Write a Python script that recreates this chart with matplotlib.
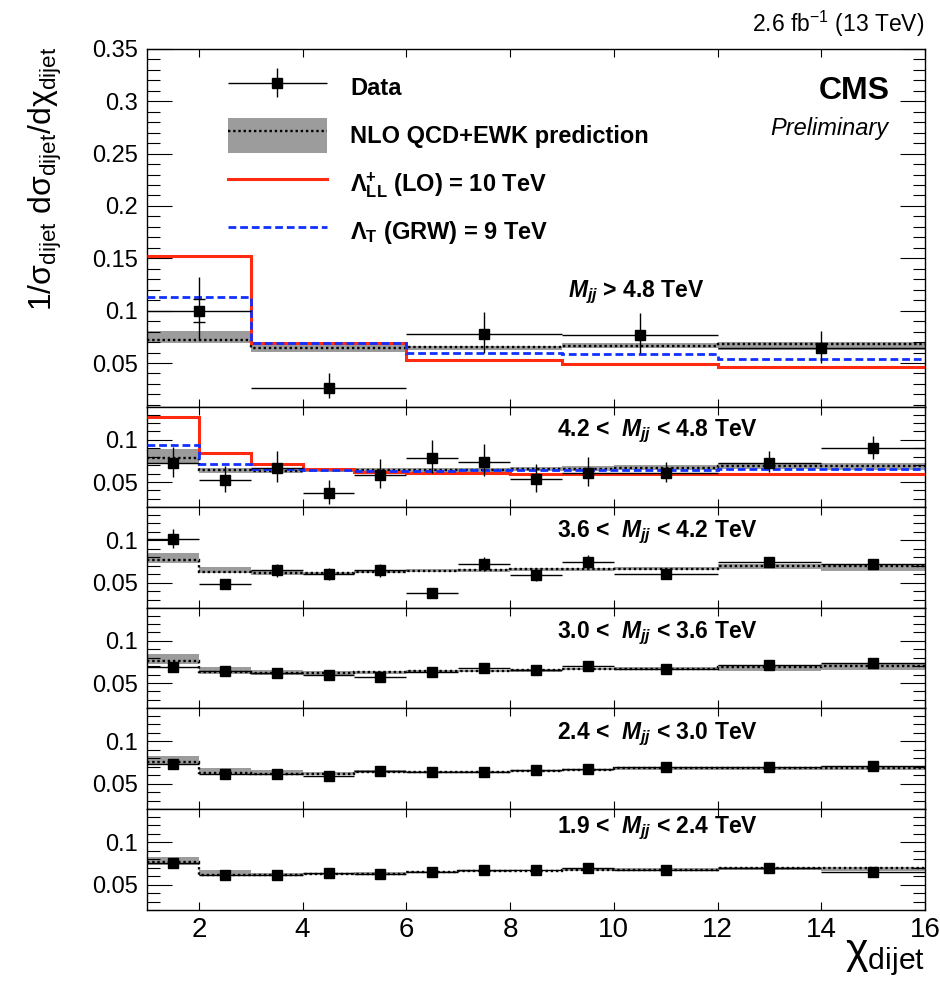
import numpy as np
import matplotlib
matplotlib.use("Agg")
import matplotlib.pyplot as plt
from matplotlib.ticker import MultipleLocator, FuncFormatter
from matplotlib.legend_handler import HandlerErrorbar, HandlerTuple
from matplotlib.patches import Patch
from matplotlib.lines import Line2D

plt.rcParams['font.family'] = ['Liberation Sans', 'DejaVu Sans']
plt.rcParams['mathtext.fontset'] = 'custom'
plt.rcParams['mathtext.rm'] = 'Liberation Sans'
plt.rcParams['mathtext.it'] = 'Liberation Sans:italic:bold'
plt.rcParams['mathtext.bf'] = 'Liberation Sans:bold'

# ---------------- data ----------------
top_edges = [1, 3, 6, 9, 12, 16]
low_edges = [1, 2, 3, 4, 5, 6, 7, 8, 9, 10, 12, 14, 16]

panel_labels = [r"$M_{jj}$ > 4.8 TeV",
                r"4.2 <  $M_{jj}$ < 4.8 TeV",
                r"3.6 <  $M_{jj}$ < 4.2 TeV",
                r"3.0 <  $M_{jj}$ < 3.6 TeV",
                r"2.4 <  $M_{jj}$ < 3.0 TeV",
                r"1.9 <  $M_{jj}$ < 2.4 TeV"]

# Mjj > 4.8 TeV
p1_data = [0.100, 0.026, 0.078, 0.077, 0.064]
p1_err_lo = [0.028, 0.0095, 0.018, 0.017, 0.014]
p1_err_hi = [0.032, 0.0145, 0.021, 0.021, 0.017]
p1_stat = [0.011]          # inner (statistical) marks, first point
p1_nlo = [0.072, 0.064, 0.065, 0.066, 0.068]
p1_band_lo = [0.069, 0.061, 0.062, 0.0645, 0.0625]
p1_band_hi = [0.0805, 0.069, 0.0665, 0.069, 0.0705]
p1_ci = [0.152, 0.069, 0.053, 0.049, 0.046]
p1_add = [0.1135, 0.069, 0.0595, 0.0588, 0.054]

# 4.2 < Mjj < 4.8 TeV
p2_data = [0.073, 0.052, 0.067, 0.0365, 0.058, 0.079, 0.074, 0.053, 0.061, 0.061, 0.073, 0.090]
p2_err_lo = [0.017, 0.014, 0.0166, 0.012, 0.015, 0.018, 0.017, 0.0147, 0.016, 0.0106, 0.011, 0.013]
p2_err_hi = [0.018, 0.017, 0.020, 0.016, 0.019, 0.021, 0.021, 0.018, 0.019, 0.013, 0.014, 0.015]
p2_nlo = [0.078, 0.064, 0.0635, 0.064, 0.0645, 0.0645, 0.0645, 0.065, 0.066, 0.067, 0.069, 0.069]
p2_band_lo = [0.073, 0.061, 0.061, 0.0615, 0.062, 0.062, 0.062, 0.0625, 0.0635, 0.064, 0.065, 0.0645]
p2_band_hi = [0.089, 0.067, 0.066, 0.0665, 0.067, 0.067, 0.067, 0.0675, 0.0685, 0.070, 0.0725, 0.073]
p2_ci = [0.1274, 0.085, 0.071, 0.0658, 0.062, 0.061, 0.061, 0.0595, 0.0598, 0.0598, 0.0598, 0.0598]
p2_add = [0.0937, 0.0718, 0.0658, 0.064, 0.0635, 0.0635, 0.064, 0.064, 0.064, 0.064, 0.065, 0.065]

# 3.6 < Mjj < 4.2 TeV
p3_data = [0.102, 0.048, 0.0646, 0.0606, 0.0646, 0.0375, 0.0717, 0.0591, 0.0748, 0.0606, 0.0744, 0.0717]
p3_err_lo = [0.0106, 0.006, 0.0079, 0.0078, 0.0079, 0.006, 0.0079, 0.0071, 0.0071, 0.005, 0.0055, 0.0052]
p3_err_hi = [0.011, 0.006, 0.0078, 0.0071, 0.0078, 0.006, 0.0086, 0.0067, 0.0079, 0.005, 0.0056, 0.0047]
p3_nlo = [0.0764, 0.0626, 0.0618, 0.061, 0.0626, 0.0638, 0.0645, 0.0658, 0.0658, 0.0665, 0.0697, 0.0697]
p3_band_lo = [0.0729, 0.0611, 0.0595, 0.059, 0.061, 0.062, 0.063, 0.064, 0.064, 0.0645, 0.0655, 0.0638]
p3_band_hi = [0.0854, 0.0689, 0.0645, 0.063, 0.064, 0.0655, 0.066, 0.0675, 0.0675, 0.0685, 0.0725, 0.0724]

# 3.0 < Mjj < 3.6 TeV
p4_data = [0.0685, 0.0637, 0.0618, 0.0598, 0.0571, 0.0626, 0.0677, 0.0649, 0.0704, 0.0669, 0.0716, 0.0736]
p4_err = [0.005, 0.003, 0.003, 0.003, 0.003, 0.003, 0.003, 0.003, 0.003, 0.0025, 0.0025, 0.0025]
p4_nlo = [0.0767, 0.063, 0.0618, 0.0618, 0.063, 0.0637, 0.0645, 0.0649, 0.0665, 0.0669, 0.0685, 0.0696]
p4_band_lo = [0.0728, 0.061, 0.060, 0.060, 0.061, 0.062, 0.063, 0.0635, 0.065, 0.065, 0.0645, 0.065]
p4_band_hi = [0.0843, 0.0685, 0.065, 0.0645, 0.0645, 0.065, 0.066, 0.0665, 0.068, 0.0685, 0.0717, 0.0725]

# 2.4 < Mjj < 3.0 TeV
p5_data = [0.073, 0.0619, 0.0611, 0.0591, 0.065, 0.0638, 0.0638, 0.0658, 0.067, 0.0698, 0.0702, 0.071]
p5_err = [0.004, 0.003, 0.003, 0.003, 0.003, 0.003, 0.003, 0.003, 0.003, 0.0025, 0.0025, 0.0025]
p5_nlo = [0.0757, 0.0631, 0.0619, 0.0611, 0.0638, 0.0638, 0.0638, 0.0653, 0.0658, 0.0682, 0.0682, 0.069]
p5_band_lo = [0.073, 0.0619, 0.0605, 0.060, 0.0625, 0.0625, 0.0625, 0.064, 0.0645, 0.0665, 0.066, 0.0665]
p5_band_hi = [0.0829, 0.0679, 0.0655, 0.064, 0.0655, 0.065, 0.065, 0.0665, 0.0675, 0.0695, 0.070, 0.0705]

# 1.9 < Mjj < 2.4 TeV
p6_data = [0.0748, 0.061, 0.061, 0.0638, 0.0626, 0.065, 0.0669, 0.0669, 0.0689, 0.0677, 0.0689, 0.0645]
p6_err = [0.003, 0.0025, 0.0025, 0.0025, 0.0025, 0.0025, 0.0025, 0.0025, 0.0025, 0.002, 0.002, 0.002]
p6_nlo = [0.0768, 0.0618, 0.061, 0.0626, 0.063, 0.0645, 0.0657, 0.0665, 0.0677, 0.0677, 0.0689, 0.0689]
p6_band_lo = [0.0736, 0.0606, 0.060, 0.0615, 0.062, 0.0635, 0.0645, 0.0655, 0.0665, 0.0665, 0.067, 0.0665]
p6_band_hi = [0.0827, 0.0669, 0.064, 0.064, 0.0645, 0.066, 0.067, 0.0675, 0.069, 0.069, 0.0705, 0.071]

# ---------------- style ----------------
BAND = '#9c9c9c'
RED = '#ff2a10'
BLUE = '#1030ff'
DOT = (0, (1, 1.2))
DASH = (0, (2.8, 1.4))

fig = plt.figure(figsize=(9.4, 9.81), dpi=100)
H = 981.0
L = 147 / 940.0
W = 778 / 940.0
tops = [48.7, 407, 507.3, 608, 708.3, 809]
bots = [407, 507.3, 608, 708.3, 809, 910]
label_pos = [(0.541, 0.308), (0.527, 0.711), (0.527, 0.708),
             (0.527, 0.704), (0.527, 0.695), (0.527, 0.762)]

axes = []
for t, b in zip(tops, bots):
    axes.append(fig.add_axes([L, 1 - b / H, W, (b - t) / H]))


def style(ax, top, bottom_labels):
    ax.set_xlim(1, 16)
    ax.xaxis.set_major_locator(MultipleLocator(2))
    ax.yaxis.set_major_locator(MultipleLocator(0.05))
    ax.yaxis.set_minor_locator(MultipleLocator(0.01))
    ax.yaxis.set_major_formatter(FuncFormatter(lambda v, p: '%g' % round(v, 4)))
    ax.tick_params(axis='x', which='major', direction='in', top=True, bottom=True,
                   length=5.5, width=0.8, labelsize=20, pad=5,
                   labelbottom=bottom_labels)
    ax.tick_params(axis='y', which='major', direction='in', left=True, right=True,
                   length=18, width=0.8, labelsize=17, pad=6.5)
    ax.tick_params(axis='y', which='minor', direction='in', left=True, right=True,
                   length=9, width=0.8)
    for s in ax.spines.values():
        s.set_linewidth(1.0)


def draw(ax, edges, data, lo, hi, nlo, blo, bhi, ci=None, add=None):
    e = np.asarray(edges, float)
    x = 0.5 * (e[:-1] + e[1:])
    xw = 0.5 * (e[1:] - e[:-1])
    ax.stairs(bhi, e, baseline=blo, fill=True, color=BAND, lw=0, zorder=1)
    ax.stairs(nlo, e, baseline=None, color='black', lw=1.7, ls=DOT, zorder=2)
    if ci is not None:
        ax.stairs(ci, e, baseline=None, color=RED, lw=2.2, zorder=3)
    if add is not None:
        ax.stairs(add, e, baseline=None, color=BLUE, lw=2.0, ls=DASH, zorder=3.5)
    cont = ax.errorbar(x, data, xerr=xw, yerr=[lo, hi], fmt='s', color='black',
                       ms=7, elinewidth=1.0, capsize=0, zorder=5)
    return cont, x


# top panel
ax = axes[0]
style(ax, True, False)
ax.set_ylim(0.008, 0.3502)
data_h, xc = draw(ax, top_edges, p1_data, p1_err_lo, p1_err_hi, p1_nlo,
                  p1_band_lo, p1_band_hi, p1_ci, p1_add)
ax.errorbar(xc[:len(p1_stat)], p1_data[:len(p1_stat)], yerr=p1_stat, fmt='none',
            ecolor='black', elinewidth=0, capsize=4, capthick=1.0, zorder=5)

lower = [
    (p2_data, p2_err_lo, p2_err_hi, p2_nlo, p2_band_lo, p2_band_hi, p2_ci, p2_add),
    (p3_data, p3_err_lo, p3_err_hi, p3_nlo, p3_band_lo, p3_band_hi, None, None),
    (p4_data, p4_err, p4_err, p4_nlo, p4_band_lo, p4_band_hi, None, None),
    (p5_data, p5_err, p5_err, p5_nlo, p5_band_lo, p5_band_hi, None, None),
    (p6_data, p6_err, p6_err, p6_nlo, p6_band_lo, p6_band_hi, None, None),
]
for i, (d, lo, hi, nl, bl, bh, ci, ad) in enumerate(lower):
    ax = axes[i + 1]
    style(ax, False, i == len(lower) - 1)
    ax.set_ylim(0.02, 0.139)
    draw(ax, low_edges, d, lo, hi, nl, bl, bh, ci, ad)

for ax, lab, (lx, ly) in zip(axes, panel_labels, label_pos):
    ax.text(lx, ly, lab, transform=ax.transAxes, fontsize=16.5, fontweight='bold',
            ha='left', va='baseline', zorder=10)

# legend
handles = [data_h,
           (Patch(facecolor=BAND, edgecolor='none'),
            Line2D([], [], color='black', lw=1.7, ls=DOT)),
           Line2D([], [], color=RED, lw=2.2),
           Line2D([], [], color=BLUE, lw=2.0, ls=DASH)]
labels = ['Data', 'NLO QCD+EWK prediction',
          r'Λ$^{\mathbf{+}}_{\mathbf{LL}}$ (LO) = 10 TeV',
          r'Λ$_{\mathbf{T}}$ (GRW) = 9 TeV']
leg = axes[0].legend(handles, labels, loc='upper left',
                     bbox_to_anchor=(0.104, 0.94), frameon=False,
                     prop={'weight': 'bold', 'size': 17},
                     handlelength=4.2, handleheight=1.9, handletextpad=0.97,
                     labelspacing=0.55, borderpad=0, borderaxespad=0,
                     handler_map={type(data_h): HandlerErrorbar(xerr_size=2.1, yerr_size=0.62),
                                  tuple: HandlerTuple(ndivide=1)})

# texts
fig.text(924 / 940, 1 - 32 / H, "2.6 fb$^{-1}$ (13 TeV)", ha='right',
         va='baseline', fontsize=16.5)
fig.text(890 / 940, 1 - 99 / H, "CMS", ha='right', va='baseline',
         fontsize=23, fontweight='bold')
fig.text(888 / 940, 1 - 135 / H, "Preliminary", ha='right', va='baseline',
         fontsize=17, style='italic')
fig.text(45 / 940, 1 - 47 / H,
         r"1/σ$_{\rm dijet}$ dσ$_{\rm dijet}$/dχ$_{\rm dijet}$",
         rotation=90, ha='center', va='top', fontsize=23)
fig.text(925 / 940, 1 - 963 / H, r"χ$_{\rm dijet}$", ha='right',
         va='baseline', fontsize=31)

fig.savefig('out.png', dpi=100)
